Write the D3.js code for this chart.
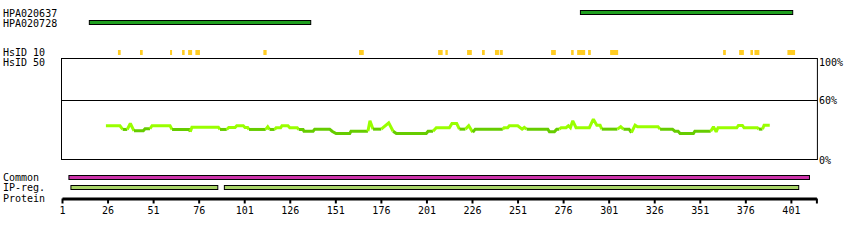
<!DOCTYPE html>
<html><head><meta charset="utf-8">
<script src="https://cdn.jsdelivr.net/npm/d3@7"></script>
<style>
body{margin:0;background:#fff}
svg{display:block}
text{font-family:"DejaVu Sans Mono",monospace;font-size:10px;fill:#000}
</style>
</head><body>
<svg id="chart" width="850" height="240"></svg>
<script>
// ---- data ----
const proteinLength = 415;
const tickValues = [1, 26, 51, 76, 101, 126, 151, 176, 201, 226, 251, 276, 301, 326, 351, 376, 401];
const percentTicks = [100, 60, 0];
const antigenNames = ["HPA020637", "HPA020728"];
const antigenStart = [285.5, 16];
const antigenEnd = [402, 137.5];
const hsid10Start = [31.7, 43.8, 60.3, 66.9, 70.2, 74.2, 111.5, 164.0, 207.4, 211.4, 223.3, 231.5, 238.6, 241.2, 269.4, 280.4, 283.7, 289.7, 301.8, 363.8, 372.6, 378.8, 381.0, 399.1];
const hsid10End   = [33.2, 45.3, 61.4, 68.3, 72.4, 76.7, 113.3, 166.6, 209.9, 212.7, 225.9, 233.0, 240.8, 242.9, 272.0, 281.8, 288.1, 291.2, 306.2, 365.3, 375.2, 380.2, 383.7, 403.3];
const commonStart = [4.8];
const commonEnd = [411.2];
const ipregStart = [5.9, 90.1];
const ipregEnd = [86.5, 405.3];
const identityResidue = [25.1,32.8,34.3,36.8,38.5,40.5,45.6,46.6,49.3,50.4,60.3,61.4,70.9,71.4,72.3,86.8,87.7,91.4,92.5,96.0,96.9,100.5,101.4,102.9,103.6,112.8,113.9,114.9,117.7,118.5,121.0,121.7,125.0,126.0,130.1,130.9,133.3,133.8,138.8,139.7,147.9,149.2,151.4,158.9,159.6,168.9,170.0,171.7,176.2,180.3,182.7,184.5,200.9,201.9,204.6,206.4,213.6,215.0,217.6,219.1,222.4,224.2,226.4,227.8,242.9,243.6,245.6,246.5,251.1,253.5,254.7,256.0,267.6,268.5,271.2,272.5,273.9,274.9,277.6,278.9,280.0,281.3,283.1,290.4,292.6,294.5,296.3,297.2,305.8,307.6,309.1,312.2,313.5,315.5,316.8,328.1,329.2,336.0,337.3,339.1,340.2,347.5,348.3,357.0,358.5,360.0,361.0,371.3,372.2,374.4,375.3,382.6,383.4,385.4,386.3,389.4];
const identityPercent = [33.9,33.9,30.2,30.2,36.2,28.8,28.8,30.9,30.9,33.9,33.9,30.2,30.2,27.8,32.5,32.5,30.2,30.2,32.2,32.2,33.9,33.9,32.2,32.2,30.2,30.2,32.9,30.2,30.2,31.9,31.9,33.9,33.9,31.9,31.9,30.2,30.2,28.4,28.4,30.5,30.5,28.4,26.1,26.1,28.4,28.4,38.9,30.5,30.5,36.9,28.4,26.1,26.1,28.4,28.4,31.9,31.9,36.2,36.2,30.5,30.5,33.9,27.4,30.5,30.5,31.9,31.9,33.9,33.9,30.5,32.2,30.5,30.5,27.8,27.8,30.5,30.5,31.9,31.9,33.9,31.9,38.9,31.9,31.9,40.5,34.5,34.5,30.5,30.5,32.9,30.5,30.5,27.1,34.5,32.9,32.9,30.5,30.5,28.4,28.4,26.1,26.1,28.4,28.4,32.9,27.8,31.9,31.9,34.2,34.2,31.9,31.9,30.5,30.5,34.5,34.5];
const colorThreshold = 31.4;

// ---- drawing ----
const svg = d3.select("#chart");
const x = d3.scaleLinear().domain([1, proteinLength]).range([62, 816.4]);
const y = d3.scaleLinear().domain([0, 100]).range([159.5, 60]);

const C = {antigen:"#1f9f1f", hsid:"#ffcc22", common:"#cc33aa", ipreg:"#a8d468", light:"#99ff00", dark:"#66cc00"};

// left labels
const leftLabels = [
  {t:"HPA020637", y:16.5}, {t:"HPA020728", y:26.5},
  {t:"HsID 10", y:56}, {t:"HsID 50", y:66},
  {t:"Common", y:181}, {t:"IP-reg.", y:191}, {t:"Protein", y:202}
];
svg.selectAll("text.left").data(leftLabels).join("text")
  .attr("class","left").attr("x",3).attr("y",d=>d.y).text(d=>d.t);

// antigen bars
const antigenRowY = [10.5, 20.5];
svg.selectAll("rect.antigen").data(antigenNames).join("rect")
  .attr("class","antigen")
  .attr("x",(d,i)=>x(antigenStart[i])).attr("width",(d,i)=>x(antigenEnd[i])-x(antigenStart[i]))
  .attr("y",(d,i)=>antigenRowY[i]).attr("height",4)
  .attr("fill",C.antigen).attr("stroke","#000").attr("stroke-width",1);

// HsID 10 marks
svg.selectAll("rect.hsid").data(hsid10Start).join("rect")
  .attr("class","hsid")
  .attr("x",(d)=>x(d)).attr("width",(d,i)=>Math.max(1.5, x(hsid10End[i])-x(d)))
  .attr("y",50).attr("height",5).attr("fill",C.hsid);

// plot frame
const frameTop = Math.round(y(102)) + 0.5;
const frameBottom = y(0);
const frameRight = x(proteinLength) + 1;
svg.append("rect").attr("x",x(1)-0.5).attr("y",frameTop)
  .attr("width",frameRight-(x(1)-0.5)).attr("height",frameBottom-frameTop)
  .attr("fill","none").attr("stroke","#000").attr("stroke-width",1);
svg.append("line").attr("x1",x(1)-0.5).attr("x2",frameRight)
  .attr("y1",Math.round(y(60))+0.5).attr("y2",Math.round(y(60))+0.5)
  .attr("stroke","#000").attr("stroke-width",1);
svg.selectAll("text.pct").data(percentTicks).join("text")
  .attr("class","pct").attr("x",frameRight+1.5)
  .attr("y",d=>Math.max(y(d)+4, frameTop+7.5)).text(d=>d+"%");

// identity line, coloured by value
const pts = identityResidue.map((r,i)=>[r, identityPercent[i]]);
const runs = [];
for (let i=0;i<pts.length-1;i++){
  const col = Math.max(pts[i][1], pts[i+1][1]) >= colorThreshold ? C.light : C.dark;
  const last = runs[runs.length-1];
  if (last && last.col===col) last.p.push(pts[i+1]);
  else runs.push({col, p:[pts[i], pts[i+1]]});
}
const line = d3.line().x(d=>x(d[0])).y(d=>y(d[1]));
svg.selectAll("path.ident").data(runs).join("path")
  .attr("class","ident").attr("d",d=>line(d.p))
  .attr("fill","none").attr("stroke",d=>d.col).attr("stroke-width",3)
  .attr("stroke-linejoin","miter").attr("stroke-miterlimit",2);

// common / IP-reg bars
svg.selectAll("rect.common").data(commonStart).join("rect")
  .attr("class","common").attr("x",d=>x(d)).attr("width",(d,i)=>x(commonEnd[i])-x(d))
  .attr("y",175.5).attr("height",4).attr("fill",C.common).attr("stroke","#000");
svg.selectAll("rect.ipreg").data(ipregStart).join("rect")
  .attr("class","ipreg").attr("x",d=>x(d)).attr("width",(d,i)=>x(ipregEnd[i])-x(d))
  .attr("y",185.5).attr("height",4).attr("fill",C.ipreg).attr("stroke","#000");

// protein axis
const axis = d3.axisBottom(x)
  .tickValues(tickValues.concat([proteinLength]))
  .tickFormat(d=>tickValues.includes(d)?d:"")
  .tickSize(5).tickSizeOuter(0).tickPadding(3);
const ag = svg.append("g").attr("transform","translate(0,198.5)").call(axis);
ag.select(".domain").attr("stroke","#000").attr("stroke-width",3);
ag.selectAll(".tick line").attr("stroke","#000").attr("stroke-width",2);
ag.selectAll(".tick text").attr("font-family",'"DejaVu Sans Mono",monospace').attr("font-size",10).attr("fill","#000");
</script>
</body></html>
